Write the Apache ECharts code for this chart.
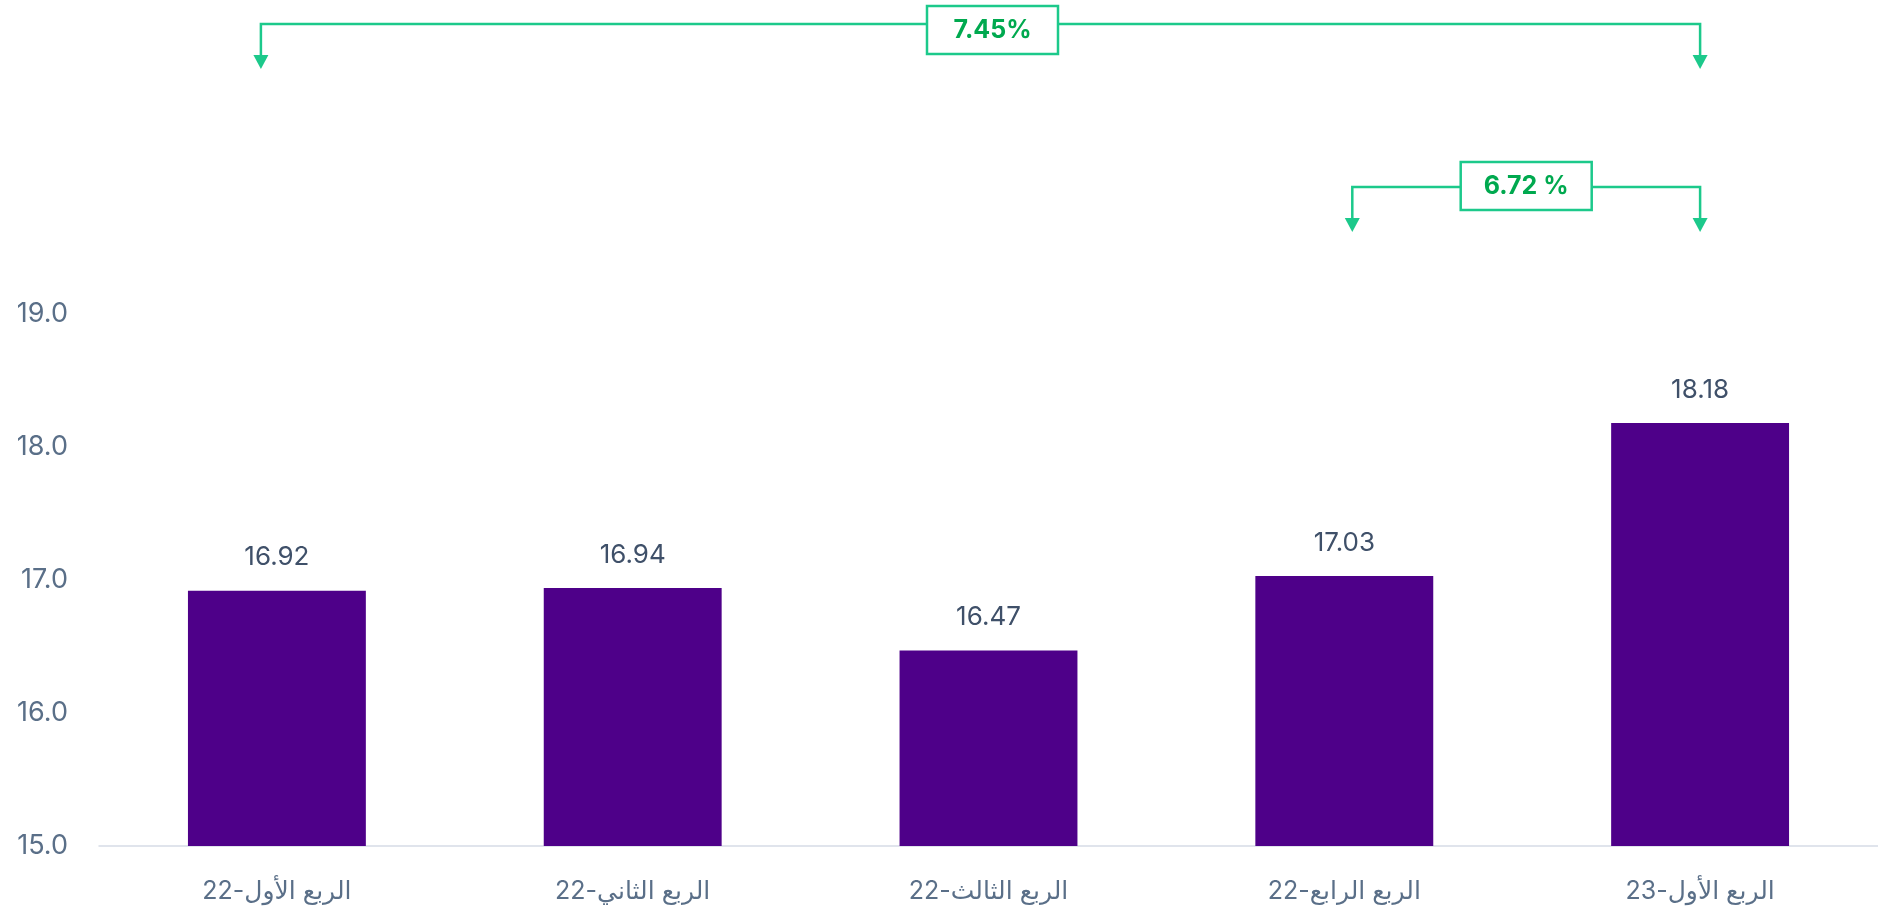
<!DOCTYPE html>
<html>
<head>
<meta charset="utf-8">
<script src="https://cdn.jsdelivr.net/npm/echarts@6/dist/echarts.min.js"></script>
<style>
  html, body { margin: 0; padding: 0; background: #fff; }
  #chart { width: 1878px; height: 913px; }
</style>
</head>
<body>
<div id="chart"></div>
<script>
// data
const categories = ['الربع الأول-22', 'الربع الثاني-22', 'الربع الثالث-22', 'الربع الرابع-22', 'الربع الأول-23'];
const values = [16.92, 16.94, 16.47, 17.03, 18.18];
const yMin = 15, yMax = 19, yStep = 1;
// change brackets: from / to category index, label
const changeFrom = [0, 3];
const changeTo = [4, 4];
const changeText = ['7.45%', '6.72 %'];

const FONT = 'Inter, "DejaVu Sans", sans-serif';
const green = '#1cc98b';

let ec = echarts.init(document.getElementById('chart'));

let option = {
  animation: false,
  grid: { left: 99, width: 1783, top: 314, bottom: 67 },
  xAxis: {
    type: 'category',
    data: categories,
    axisLine: { lineStyle: { color: '#d6dce6', width: 1.5 } },
    axisTick: { show: false },
    axisLabel: { color: '#5a6f88', fontSize: 25, fontFamily: FONT, margin: 33 }
  },
  yAxis: {
    type: 'value',
    min: yMin,
    max: yMax,
    interval: yStep,
    splitLine: { show: false },
    axisLine: { show: false },
    axisTick: { show: false },
    axisLabel: {
      color: '#5a6f88', fontSize: 27, fontFamily: FONT, margin: 31,
      formatter: v => v.toFixed(1)
    }
  },
  series: [{
    type: 'bar',
    data: values,
    barWidth: '50%',
    itemStyle: { color: '#4e0089' },
    label: {
      show: true,
      position: 'top',
      distance: 20,
      color: '#3f5069',
      fontSize: 26,
      fontFamily: FONT,
      formatter: p => p.value.toFixed(2)
    }
  }]
};
ec.setOption(option);

// brackets drawn on top
function bracket(i, lineY, tipY, boxCY, xOff1, boxOff) {
  let x1 = ec.convertToPixel({ xAxisIndex: 0 }, changeFrom[i]) + xOff1;
  let x2 = ec.convertToPixel({ xAxisIndex: 0 }, changeTo[i]);
  let mid = (x1 + x2) / 2 + boxOff;
  let headTop = tipY - 14;
  let els = [];
  els.push({
    type: 'polyline',
    shape: { points: [[x1, headTop], [x1, lineY], [x2, lineY], [x2, headTop]] },
    style: { stroke: green, lineWidth: 2.5, fill: null }
  });
  [x1, x2].forEach(x => els.push({
    type: 'polygon',
    shape: { points: [[x - 7.5, headTop], [x + 7.5, headTop], [x, tipY]] },
    style: { fill: green }
  }));
  els.push({
    type: 'rect',
    shape: { x: mid - 65.5, y: boxCY - 24, width: 131, height: 48 },
    style: { fill: '#fff', stroke: green, lineWidth: 2.5 }
  });
  els.push({
    type: 'text',
    x: mid, y: boxCY,
    style: {
      text: changeText[i], fill: '#00a94f', font: 'bold 25px ' + FONT,
      align: 'center', verticalAlign: 'middle'
    }
  });
  return els;
}

ec.setOption({
  graphic: [].concat(
    bracket(0, 24, 69, 30, -16, 12),
    bracket(1, 187, 232, 186, 8, 0)
  )
});
</script>
</body>
</html>
